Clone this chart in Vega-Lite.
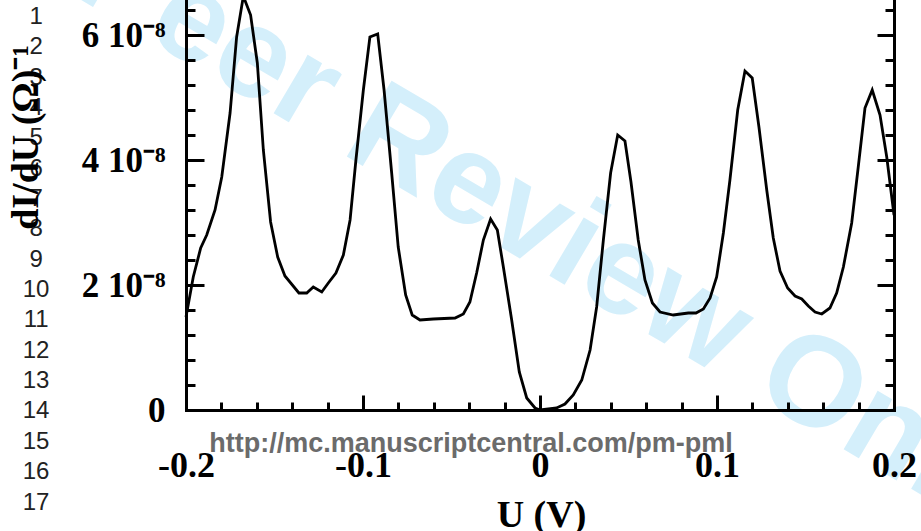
{
  "$schema": "https://vega.github.io/schema/vega-lite/v6.json",
  "width": 708,
  "height": 410,
  "autosize": {"type": "none"},
  "padding": {"left": 186, "top": 0, "right": 27, "bottom": 121},
  "background": "white",
  "config": {
    "view": {"stroke": null},
    "axis": {"grid": false, "tickColor": "black", "tickWidth": 3, "domainColor": "black", "domainWidth": 3, "domainCap": "square", "labelFlush": false, "labelOverlap": false, "labelBound": false}
  },
  "datasets": {
    "curve": [
      {"U": -0.2, "G": 1.488e-8}, {"U": -0.1959, "G": 2.128e-8}, {"U": -0.1917, "G": 2.592e-8},
      {"U": -0.1883, "G": 2.8e-8}, {"U": -0.1836, "G": 3.2e-8}, {"U": -0.1798, "G": 3.728e-8},
      {"U": -0.1751, "G": 4.752e-8}, {"U": -0.1714, "G": 5.968e-8}, {"U": -0.1676, "G": 6.62e-8},
      {"U": -0.1635, "G": 6.32e-8}, {"U": -0.1597, "G": 5.552e-8}, {"U": -0.1563, "G": 4.16e-8},
      {"U": -0.1522, "G": 3.008e-8}, {"U": -0.1482, "G": 2.448e-8}, {"U": -0.1441, "G": 2.144e-8},
      {"U": -0.1362, "G": 1.872e-8}, {"U": -0.1318, "G": 1.872e-8}, {"U": -0.1281, "G": 1.968e-8},
      {"U": -0.1233, "G": 1.888e-8}, {"U": -0.1196, "G": 2.032e-8}, {"U": -0.1153, "G": 2.192e-8},
      {"U": -0.1111, "G": 2.48e-8}, {"U": -0.1073, "G": 3.04e-8}, {"U": -0.104, "G": 4.0e-8},
      {"U": -0.0998, "G": 5.12e-8}, {"U": -0.0961, "G": 5.968e-8}, {"U": -0.0917, "G": 6.016e-8},
      {"U": -0.0881, "G": 5.12e-8}, {"U": -0.0838, "G": 3.792e-8}, {"U": -0.0801, "G": 2.608e-8},
      {"U": -0.0759, "G": 1.84e-8}, {"U": -0.0722, "G": 1.52e-8}, {"U": -0.0678, "G": 1.44e-8},
      {"U": -0.0603, "G": 1.456e-8}, {"U": -0.048, "G": 1.472e-8}, {"U": -0.0433, "G": 1.536e-8},
      {"U": -0.0396, "G": 1.728e-8}, {"U": -0.0358, "G": 2.192e-8}, {"U": -0.032, "G": 2.72e-8},
      {"U": -0.0279, "G": 3.056e-8}, {"U": -0.0241, "G": 2.88e-8}, {"U": -0.0207, "G": 2.288e-8},
      {"U": -0.016, "G": 1.44e-8}, {"U": -0.0117, "G": 6.08e-9}, {"U": -0.0075, "G": 1.92e-9},
      {"U": -0.0028, "G": 3.2e-10}, {"U": 0, "G": 0}, {"U": 0.0094, "G": 3.2e-10},
      {"U": 0.0141, "G": 9.6e-10}, {"U": 0.0188, "G": 2.4e-9}, {"U": 0.0236, "G": 4.8e-9},
      {"U": 0.0283, "G": 9.6e-9}, {"U": 0.032, "G": 1.648e-8}, {"U": 0.0358, "G": 2.72e-8},
      {"U": 0.0399, "G": 3.792e-8}, {"U": 0.0439, "G": 4.4e-8}, {"U": 0.048, "G": 4.304e-8},
      {"U": 0.0514, "G": 3.648e-8}, {"U": 0.0555, "G": 2.72e-8}, {"U": 0.0593, "G": 2.08e-8},
      {"U": 0.0635, "G": 1.712e-8}, {"U": 0.0678, "G": 1.568e-8}, {"U": 0.0753, "G": 1.52e-8},
      {"U": 0.0838, "G": 1.552e-8}, {"U": 0.0881, "G": 1.552e-8}, {"U": 0.0923, "G": 1.616e-8},
      {"U": 0.0961, "G": 1.792e-8}, {"U": 0.0998, "G": 2.128e-8}, {"U": 0.1036, "G": 2.832e-8},
      {"U": 0.1073, "G": 3.68e-8}, {"U": 0.1117, "G": 4.8e-8}, {"U": 0.1158, "G": 5.424e-8},
      {"U": 0.1199, "G": 5.312e-8}, {"U": 0.1237, "G": 4.528e-8}, {"U": 0.1281, "G": 3.52e-8},
      {"U": 0.1318, "G": 2.752e-8}, {"U": 0.1356, "G": 2.224e-8}, {"U": 0.1399, "G": 1.952e-8},
      {"U": 0.1441, "G": 1.824e-8}, {"U": 0.1479, "G": 1.776e-8}, {"U": 0.1516, "G": 1.664e-8},
      {"U": 0.1554, "G": 1.568e-8}, {"U": 0.1592, "G": 1.536e-8}, {"U": 0.1638, "G": 1.632e-8},
      {"U": 0.1676, "G": 1.872e-8}, {"U": 0.1714, "G": 2.288e-8}, {"U": 0.1761, "G": 2.992e-8},
      {"U": 0.1798, "G": 3.888e-8}, {"U": 0.1836, "G": 4.832e-8}, {"U": 0.1877, "G": 5.12e-8},
      {"U": 0.1921, "G": 4.72e-8}, {"U": 0.1959, "G": 4.048e-8}, {"U": 0.2, "G": 3.12e-8}
    ],
    "lines": [
      {"n": 1}, {"n": 2}, {"n": 3}, {"n": 4}, {"n": 5}, {"n": 6}, {"n": 7}, {"n": 8}, {"n": 9},
      {"n": 10}, {"n": 11}, {"n": 12}, {"n": 13}, {"n": 14}, {"n": 15}, {"n": 16}, {"n": 17}
    ],
    "wm": [{"label": "Peer Review Only"}],
    "url": [{"label": "http://mc.manuscriptcentral.com/pm-pml"}]
  },
  "layer": [
    {
      "data": {"name": "wm"},
      "mark": {"type": "text", "font": "Liberation Sans", "fontWeight": "bold", "fontSize": 128, "color": "#d4effb", "angle": 30.5, "align": "center", "baseline": "middle"},
      "encoding": {
        "x": {"datum": 0.0067, "type": "quantitative", "scale": {"domain": [-0.2, 0.2], "nice": false, "zero": false}, "axis": null},
        "y": {"datum": 2.83e-8, "type": "quantitative", "scale": {"domain": [0, 6.56e-8], "nice": false, "zero": false}, "axis": null},
        "text": {"field": "label"}
      }
    },
    {
      "data": {"name": "lines"},
      "mark": {"type": "text", "font": "Liberation Sans", "fontSize": 24, "color": "#222222", "align": "center", "baseline": "middle"},
      "encoding": {
        "x": {"datum": -0.2847, "type": "quantitative", "scale": {"domain": [-0.2, 0.2], "nice": false, "zero": false}, "axis": null},
        "y": {"field": "n", "type": "quantitative", "scale": {"domain": [1, 17], "range": [17, 502.5], "nice": false, "zero": false}, "axis": null},
        "text": {"field": "n"}
      }
    },
    {
      "data": {"name": "url"},
      "mark": {"type": "text", "font": "Liberation Sans", "fontWeight": "bold", "fontSize": 27, "color": "#6b6b6b", "align": "center", "baseline": "alphabetic"},
      "encoding": {
        "x": {"datum": -0.039, "type": "quantitative", "scale": {"domain": [-0.2, 0.2], "nice": false, "zero": false}, "axis": null},
        "y": {"datum": -6.72e-9, "type": "quantitative", "scale": {"domain": [0, 6.56e-8], "nice": false, "zero": false}, "axis": null},
        "text": {"field": "label"}
      }
    },
    {
      "data": {"name": "curve"},
      "mark": {"type": "line", "color": "black", "strokeWidth": 2.8},
      "encoding": {
        "x": {"field": "U", "type": "quantitative", "scale": {"domain": [-0.2, 0.2], "nice": false, "zero": false},
          "axis": {"orient": "bottom", "zindex": 1, "values": [-0.2, -0.18, -0.16, -0.14, -0.12, -0.1, -0.08, -0.06, -0.04, -0.02, 0, 0.02, 0.04, 0.06, 0.08, 0.1, 0.12, 0.14, 0.16, 0.18, 0.2], "tickSize": -8, "labels": false, "title": null}},
        "y": {"field": "G", "type": "quantitative", "scale": {"domain": [0, 6.56e-8], "nice": false, "zero": false},
          "axis": {"orient": "left", "zindex": 1, "values": [4e-9, 8e-9, 1.2e-8, 1.6e-8, 2e-8, 2.4e-8, 2.8e-8, 3.2e-8, 3.6e-8, 4e-8, 4.4e-8, 4.8e-8, 5.2e-8, 5.6e-8, 6e-8, 6.4e-8], "tickSize": -9, "labels": false, "title": null}}
      }
    },
    {
      "data": {"name": "curve"},
      "mark": {"type": "line", "strokeOpacity": 0},
      "encoding": {
        "x": {"field": "U", "type": "quantitative", "scale": {"domain": [-0.2, 0.2], "nice": false, "zero": false},
          "axis": {"orient": "bottom", "zindex": 1, "values": [-0.2, -0.1, 0, 0.1, 0.2], "tickSize": -15, "domain": false,
            "labelExpr": "datum.value == 0 ? '0' : (datum.value < 0 ? '-' : '') + format(abs(datum.value), '.1f')",
            "labelFont": "Liberation Serif", "labelFontWeight": "bold", "labelFontSize": 36, "labelColor": "black", "labelPadding": 53, "labelBaseline": "top",
            "title": "U (V)", "titleFont": "Liberation Serif", "titleFontWeight": "bold", "titleFontSize": 38, "titleColor": "black",
            "titleX": 355, "titleY": 116, "titleBaseline": "alphabetic", "titleAlign": "center"}},
        "y": {"field": "G", "type": "quantitative", "scale": {"domain": [0, 6.56e-8], "nice": false, "zero": false},
          "axis": {"orient": "left", "zindex": 1, "values": [0, 2e-8, 4e-8, 6e-8], "tickSize": -18, "domain": false,
            "labelExpr": "datum.value == 0 ? '0' : format(datum.value * 1e8, 'd') + ' 10⁻⁸'",
            "labelFont": "Liberation Serif", "labelFontWeight": "bold", "labelFontSize": 35, "labelColor": "black", "labelPadding": 39, "labelBaseline": "middle", "labelAlign": "right",
            "title": "dI/dU (Ω)⁻¹", "titleFont": "Liberation Serif", "titleFontWeight": "bold", "titleFontSize": 38, "titleColor": "black",
            "titleAngle": 270, "titleX": -149, "titleY": 137, "titleBaseline": "alphabetic", "titleAlign": "center"}}
      }
    },
    {
      "data": {"name": "curve"},
      "mark": {"type": "line", "strokeOpacity": 0},
      "encoding": {
        "x": {"field": "U", "type": "quantitative", "scale": {"domain": [-0.2, 0.2], "nice": false, "zero": false}, "axis": null},
        "y": {"field": "G", "type": "quantitative", "scale": {"domain": [0, 6.56e-8], "nice": false, "zero": false},
          "axis": {"orient": "right", "zindex": 1, "values": [4e-9, 8e-9, 1.2e-8, 1.6e-8, 2e-8, 2.4e-8, 2.8e-8, 3.2e-8, 3.6e-8, 4e-8, 4.4e-8, 4.8e-8, 5.2e-8, 5.6e-8, 6e-8, 6.4e-8], "tickSize": -9, "labels": false, "title": null}}
      }
    },
    {
      "data": {"name": "curve"},
      "mark": {"type": "line", "strokeOpacity": 0},
      "encoding": {
        "x": {"field": "U", "type": "quantitative", "scale": {"domain": [-0.2, 0.2], "nice": false, "zero": false}, "axis": null},
        "y": {"field": "G", "type": "quantitative", "scale": {"domain": [0, 6.56e-8], "nice": false, "zero": false},
          "axis": {"orient": "right", "zindex": 1, "values": [2e-8, 4e-8, 6e-8], "tickSize": -17, "domain": false, "labels": false, "title": null}}
      }
    }
  ],
  "resolve": {"scale": {"y": "independent"}, "axis": {"x": "independent", "y": "independent"}}
}
